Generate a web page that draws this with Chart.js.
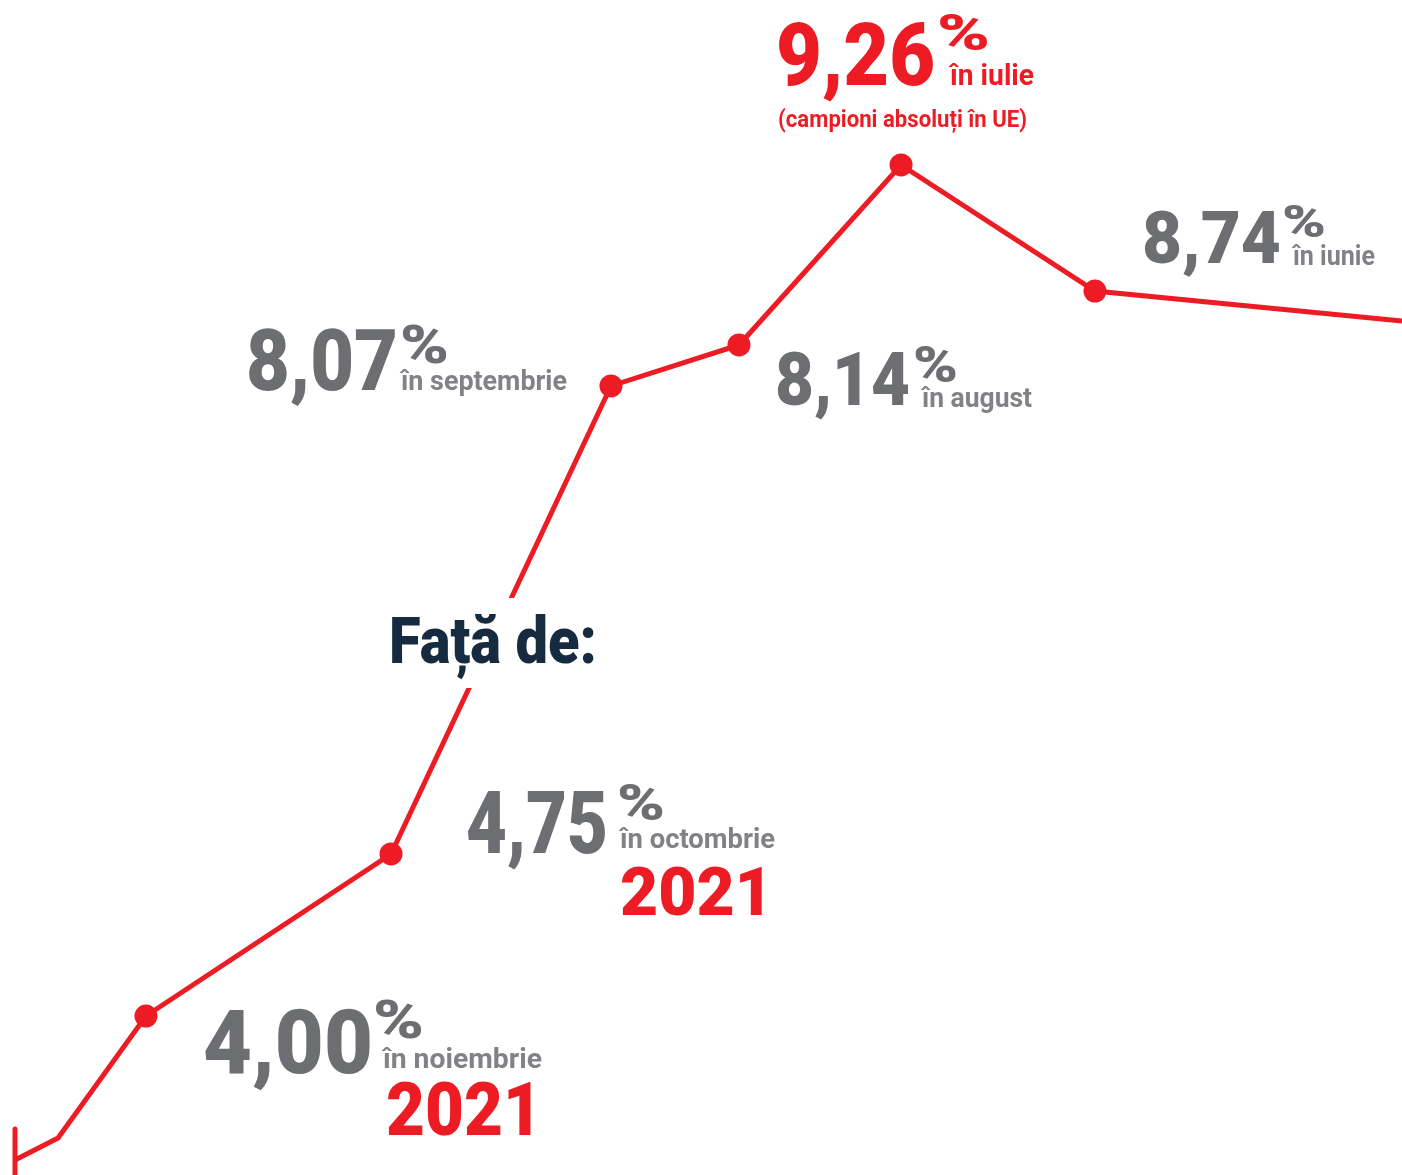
<!DOCTYPE html>
<html>
<head>
<meta charset="utf-8">
<script src="https://cdn.jsdelivr.net/npm/chart.js@4"></script>
<style>
  html, body { margin: 0; padding: 0; background: #ffffff; }
  #wrap { width: 1402px; height: 1175px; position: relative; }
</style>
</head>
<body>
<div id="wrap"><canvas id="c"></canvas></div>
<script>
// ---- data (stylised infographic: horizontal position & drawn level) ----
const months     = ["", "", "noiembrie", "octombrie", "septembrie", "august", "iulie", "iunie", ""];
const xPosition  = [1.07, 4.14, 10.41, 27.89, 43.58, 52.71, 64.27, 78.10, 100];
const drawnLevel = [1.28, 3.15, 13.53, 27.32, 67.15, 70.64, 85.96, 75.23, 72.68];
const rateLabels = ["", "", "4,00", "4,75", "8,07", "8,14", "9,26", "8,74", ""];
const yearLabels = ["", "", "2021", "2021", "", "", "", "", ""];
const markerShown = [false, false, true, true, true, true, true, true, false];
const startTick  = [0, 3.91];
const noteText   = "(campioni absoluți în UE)";
const headingText = "Față de:";

const RED = "#ed1c24", GRAY = "#6d6e71", LGRAY = "#808285", NAVY = "#172b40";
const FONT = "Roboto";

function fitText(ctx, text, x, y, size, width, color, weight) {
  ctx.save();
  ctx.font = `${weight || 'bold'} ${size}px ${FONT}`;
  const w = ctx.measureText(text).width;
  ctx.translate(x, y);
  ctx.scale(width / w, 1);
  ctx.fillStyle = color;
  ctx.textBaseline = 'alphabetic';
  ctx.textAlign = 'left';
  ctx.fillText(text, 0, 0);
  ctx.restore();
}
const CAP = 0.711;

// label layout relative to each marked point: [dx, dy, capHeight, width]
const layout = {
  2: { num: [57, 57, 63, 170], pct: [227, 22, 38, 51], mon: [237, 52, 28, 159], yr: [240, 119, 53, 156], color: GRAY },
  3: { num: [75, -1, 62, 142], pct: [226, -34, 35, 48], mon: [229, -6, 28, 155], yr: [229, 61, 48, 153], color: GRAY },
  4: { num: [-365, 4, 60, 152], pct: [-211, -23, 38, 49], mon: [-210, 4, 28, 166], color: GRAY },
  5: { num: [36, 60, 53, 135], pct: [174, 37, 35, 45], mon: [183, 62, 28, 110], color: GRAY },
  6: { num: [-125, -80, 62, 159], pct: [36, -115, 35, 53], mon: [49, -80, 30, 84], note: [-123, -38, 24, 249], color: RED },
  7: { num: [47, -28, 51, 139], pct: [187, -54, 32, 44], mon: [198, -26, 28, 82], color: GRAY }
};

const labelPlugin = {
  id: 'labels',
  afterDatasetsDraw(chart) {
    const ctx = chart.ctx;
    ctx.save();
    ctx.fillStyle = '#ffffff';
    ctx.fillRect(383, 598, 220, 90);
    ctx.restore();
    fitText(ctx, headingText, 389, 663, 46 / CAP, 208, NAVY, '900');

    const meta = chart.getDatasetMeta(0);
    Object.keys(layout).forEach(k => {
      const i = +k, L = layout[k];
      const p = meta.data[i];
      const px = p.x, py = p.y;
      const monColor = L.color === RED ? RED : LGRAY;
      fitText(ctx, rateLabels[i], px + L.num[0], py + L.num[1], L.num[2] / CAP, L.num[3], L.color, '900');
      fitText(ctx, "%", px + L.pct[0], py + L.pct[1], L.pct[2] / CAP, L.pct[3], L.color, '900');
      fitText(ctx, "în " + months[i], px + L.mon[0], py + L.mon[1], L.mon[2], L.mon[3], monColor, 'bold');
      if (L.yr && yearLabels[i]) fitText(ctx, yearLabels[i], px + L.yr[0], py + L.yr[1], L.yr[2] / CAP, L.yr[3], RED, '900');
      if (L.note) fitText(ctx, noteText, px + L.note[0], py + L.note[1], L.note[2], L.note[3], RED, 'bold');
    });
  }
};

const points = xPosition.map((x, i) => ({ x, y: drawnLevel[i] }));
const tick = startTick.map(y => ({ x: xPosition[0], y }));

new Chart(document.getElementById('c'), {
  type: 'line',
  data: {
    datasets: [
      {
        data: points,
        borderColor: RED,
        borderWidth: 5,
        tension: 0,
        pointRadius: markerShown.map(m => m ? 11.5 : 0),
        pointBackgroundColor: RED,
        pointBorderWidth: 0,
        pointHoverRadius: markerShown.map(m => m ? 11.5 : 0),
        clip: false
      },
      {
        data: tick,
        borderColor: RED,
        borderWidth: 5,
        borderCapStyle: 'round',
        pointRadius: 0,
        clip: false
      }
    ]
  },
  options: {
    responsive: true,
    maintainAspectRatio: false,
    animation: false,
    layout: { padding: 0 },
    plugins: { legend: { display: false }, tooltip: { enabled: false }, title: { display: false } },
    events: [],
    scales: {
      x: { type: 'linear', min: 0, max: 100, display: false },
      y: { type: 'linear', min: 0, max: 100, display: false }
    }
  },
  plugins: [labelPlugin]
});
</script>
</body>
</html>
